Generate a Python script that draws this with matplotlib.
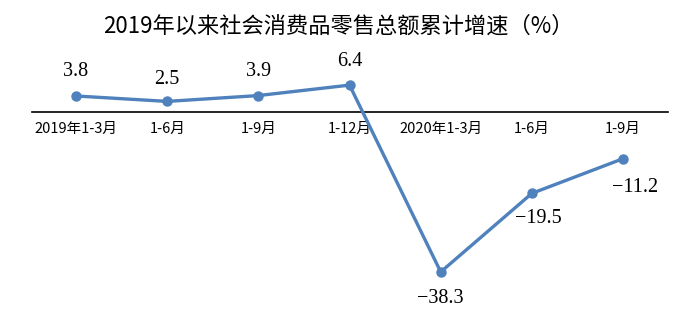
import matplotlib
matplotlib.use("Agg")
import matplotlib.pyplot as plt

categories = ["2019年1-3月", "1-6月", "1-9月", "1-12月", "2020年1-3月", "1-6月", "1-9月"]
growth = [3.8, 2.5, 3.9, 6.4, -38.3, -19.5, -11.2]
value_labels = ["3.8", "2.5", "3.9", "6.4", "\u221238.3", "\u221219.5", "\u221211.2"]
title = "2019年以来社会消费品零售总额累计增速（%）"

# label offsets in pixels (layout only)
label_dx = [0, 0, 0, 0, 0, 6, 12]
label_dy = [24, 22, 24, 24, -27, -25, -29]

W, H = 692, 329
fig = plt.figure(figsize=(W / 100, H / 100), dpi=100)
ax = fig.add_axes([32 / W, 1 - 320 / H, (668 - 32) / W, (320 - 50) / H])

x = list(range(len(categories)))
color = "#4F81BD"
ax.plot(x, growth, color=color, lw=2.4, marker="o", ms=6.5, solid_capstyle="round", zorder=3)

ax.set_xlim(-0.483, 6.493)
ax.set_ylim(-49.8, 14.8)

for s in ["top", "right", "left"]:
    ax.spines[s].set_visible(False)
ax.spines["bottom"].set_position(("data", 0))
ax.spines["bottom"].set_color("black")
ax.spines["bottom"].set_linewidth(1.2)
ax.spines["bottom"].set_zorder(1)
ax.set_yticks([])
ax.set_xticks(x)
ax.set_xticklabels(categories, fontfamily=["Noto Sans CJK SC", "DejaVu Sans"], fontsize=10.5)
ax.tick_params(axis="x", length=0, pad=7.5)

for xi, yi, lab, dx, dy in zip(x, growth, value_labels, label_dx, label_dy):
    ax.annotate(lab, (xi, yi), xytext=(dx * 0.72, dy * 0.72), textcoords="offset points",
                ha="center", va="center", fontsize=14.5,
                fontfamily=["Liberation Serif", "DejaVu Serif"], color="black")

fig.text(338.5 / W, 1 - 26 / H, title, ha="center", va="center", fontsize=16,
         fontfamily=["Noto Sans CJK SC", "DejaVu Sans"], color="black")

fig.savefig("out.png", dpi=100, facecolor="white")
